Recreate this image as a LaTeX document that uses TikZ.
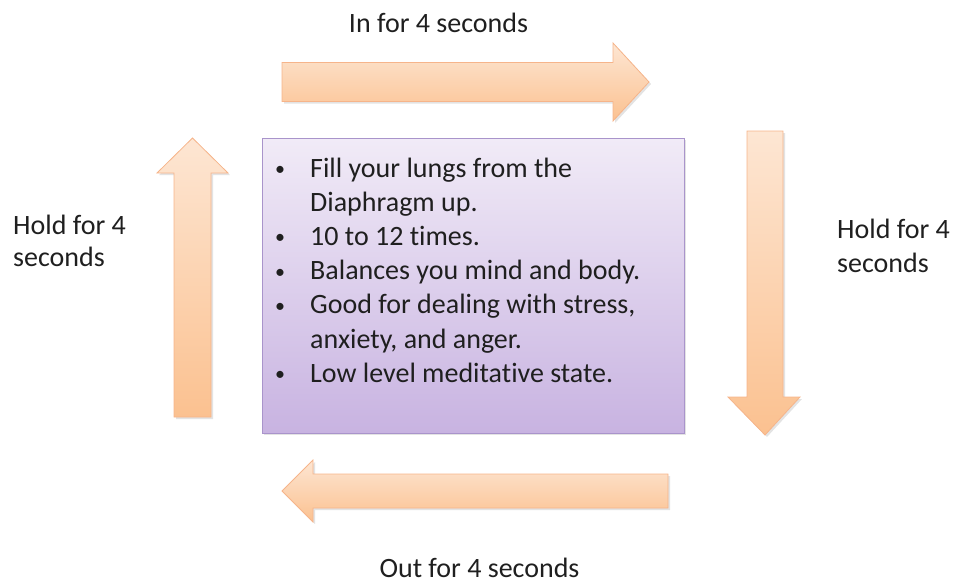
\documentclass[tikz,border=0pt]{standalone}
\usepackage{fontspec}
\setmainfont[RawFeature=-liga]{Carlito}
\newcommand{\mybul}{\raisebox{1.5pt}{\fontsize{20}{20}\selectfont •}}
\begin{document}
\begin{tikzpicture}[x=1pt,y=-1pt,
  arrowshape/.style={top color=peachtop, bottom color=peachbot, draw=peachline, line width=0.8pt, line join=miter},
  shadowshape/.style={fill=black!11, draw=none},
  boxshape/.style={top color=lavtop, bottom color=lavbot, draw=lavline, line width=1pt},
  lbl/.style={inner sep=0pt, text=black!88, font=\fontsize{28}{34.2}\selectfont}
]
\definecolor{peachtop}{HTML}{FDE6D3}
\definecolor{peachbot}{HTML}{FBC190}
\definecolor{peachline}{HTML}{F6B48A}
\definecolor{lavtop}{HTML}{F1EBF7}
\definecolor{lavbot}{HTML}{C8B3E1}
\definecolor{lavline}{HTML}{A994CB}
\useasboundingbox (0,0) rectangle (954,584);

% shadows
\fill[shadowshape] (284,64.5) -- (615,64.5) -- (615,45) -- (651,84) -- (615,123) -- (615,103.5) -- (284,103.5) -- cycle;
\fill[shadowshape] (176,419) -- (176,175) -- (159,175) -- (194.5,140) -- (230,175) -- (213,175) -- (213,419) -- cycle;
\fill[shadowshape] (749,133) -- (785,133) -- (785,399) -- (802,399) -- (767,437) -- (730,399) -- (749,399) -- cycle;
\fill[shadowshape] (670,476) -- (670,510) -- (315,510) -- (315,524) -- (284,493) -- (315,462) -- (315,476) -- cycle;
\fill[shadowshape] (264,140) rectangle (686,435);

% top arrow (right)
\shade[arrowshape] (282,62.5) -- (613,62.5) -- (613,43) -- (649,82) -- (613,121) -- (613,101.5) -- (282,101.5) -- cycle;
% left arrow (up)
\shade[arrowshape] (174,417) -- (174,173) -- (157,173) -- (192.5,138) -- (228,173) -- (211,173) -- (211,417) -- cycle;
% right arrow (down)
\shade[arrowshape] (747,131) -- (783,131) -- (783,397) -- (800,397) -- (765,435) -- (728,397) -- (747,397) -- cycle;
% bottom arrow (left)
\shade[arrowshape] (668,474) -- (668,508) -- (313,508) -- (313,522) -- (282,491) -- (313,460) -- (313,474) -- cycle;

% central box
\shade[boxshape] (262,138) rectangle (684,433);
\node[lbl, anchor=base west] (list) at (275,177) {%
  \begin{tabular}[t]{@{}p{35pt}@{}l@{}}
  \mybul & Fill your lungs from the\\
    & Diaphragm up.\\
  \mybul & 10 to 12 times.\\
  \mybul & Balances you mind and body.\\
  \mybul & Good for dealing with stress,\\
    & anxiety, and anger.\\
  \mybul & Low level meditative state.
  \end{tabular}};

% labels
\node[lbl, anchor=base] (inlbl) at (438.5,32) {In for 4 seconds};
\node[lbl, anchor=base] (outlbl) at (479.5,577) {Out for 4 seconds};
\node[lbl, anchor=base west] (holdl) at (13,234) {%
  \begin{tabular}[t]{@{}l@{}}Hold for 4\\[-2pt] seconds\end{tabular}};
\node[lbl, anchor=base west] (holdr) at (837,238) {%
  \begin{tabular}[t]{@{}l@{}}Hold for 4\\ seconds\end{tabular}};
\end{tikzpicture}
\end{document}
